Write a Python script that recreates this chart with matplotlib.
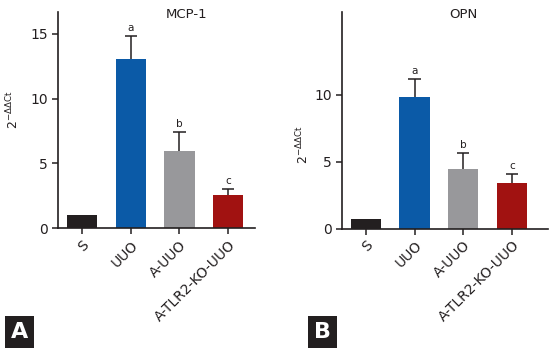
import matplotlib
matplotlib.use("Agg")
import matplotlib.pyplot as plt
import numpy as np

# data
groups = ["S", "UUO", "A-UUO", "A-TLR2-KO-UUO"]
bar_colors = ["#231f20", "#0b5aa7", "#98989b", "#a11211"]

mcp1_mean = [1.0, 13.08, 5.94, 2.56]
mcp1_err = [0.0, 1.8, 1.45, 0.44]
opn_mean = [0.72, 9.88, 4.5, 3.41]
opn_err = [0.0, 1.34, 1.17, 0.69]
sig_letters = ["", "a", "b", "c"]

plt.rcParams['font.family'] = ['DejaVu Sans']
plt.rcParams['mathtext.fontset'] = 'dejavusans'

fig = plt.figure(figsize=(5.55, 3.51), dpi=100)
ax_a = fig.add_axes([0.1045, 0.3504, 0.355, 0.6154])
ax_b = fig.add_axes([0.6162, 0.3484, 0.3712, 0.6174])

ink = '#231f20'


def draw_panel(ax, means, errs, title, title_x, ylim, yticks, xlim, ylab_x, ylab_y):
    x = np.arange(len(groups))
    means = np.array(means)
    errs = np.array(errs)
    ax.bar(x, means, width=0.62, color=bar_colors, zorder=2)
    # upper-only error bars with a cap
    has = errs > 0
    ax.vlines(x[has], means[has], means[has] + errs[has], color=ink, lw=1.1, zorder=3)
    ax.hlines(means[has] + errs[has], x[has] - 0.125, x[has] + 0.125, color=ink,
              lw=1.1, zorder=3)
    pad = 0.035 * ylim[1]
    for xi, m, e, s in zip(x, means, errs, sig_letters):
        if s:
            ax.text(xi, m + e + pad * 0.4, s, ha='center', va='bottom', fontsize=7.5,
                    color=ink)
    ax.set_xlim(*xlim)
    ax.set_ylim(*ylim)
    ax.set_yticks(yticks)
    ax.set_xticks(x)
    ax.set_xticklabels(groups, rotation=45, ha='right', rotation_mode='anchor',
                       fontsize=10, color=ink)
    ax.tick_params(axis='y', labelsize=10, length=4, width=1.1, colors=ink)
    ax.tick_params(axis='x', length=4, width=1.1, colors=ink, pad=3)
    for side in ['top', 'right']:
        ax.spines[side].set_visible(False)
    for side in ['left', 'bottom']:
        ax.spines[side].set_linewidth(1.2)
        ax.spines[side].set_color(ink)
    ax.text(title_x, 0.99, title, transform=ax.transAxes, ha='center', va='center',
            fontsize=9.5, color=ink)
    ax.text(ylab_x, ylab_y, r'$2^{\mathregular{-\Delta\Delta Ct}}$', transform=ax.transAxes,
            rotation=90, ha='center', va='center', fontsize=9, color=ink)


draw_panel(ax_a, mcp1_mean, mcp1_err, "MCP-1", 0.65, (0, 16.7), [0, 5, 10, 15],
           (-0.49, 3.55), -0.23, 0.55)
draw_panel(ax_b, opn_mean, opn_err, "OPN", 0.587, (0, 16.2), [0, 5, 10],
           (-0.49, 3.74), -0.19, 0.39)

# panel letters
for lx, ly, s in [(0.035, 0.054, "A"), (0.581, 0.054, "B")]:
    fig.text(lx, ly, s, ha='center', va='center', fontsize=16, fontweight='bold',
             color='white',
             bbox=dict(boxstyle='square,pad=0.28', facecolor=ink, edgecolor='none'))

fig.savefig("out.png", dpi=100)
